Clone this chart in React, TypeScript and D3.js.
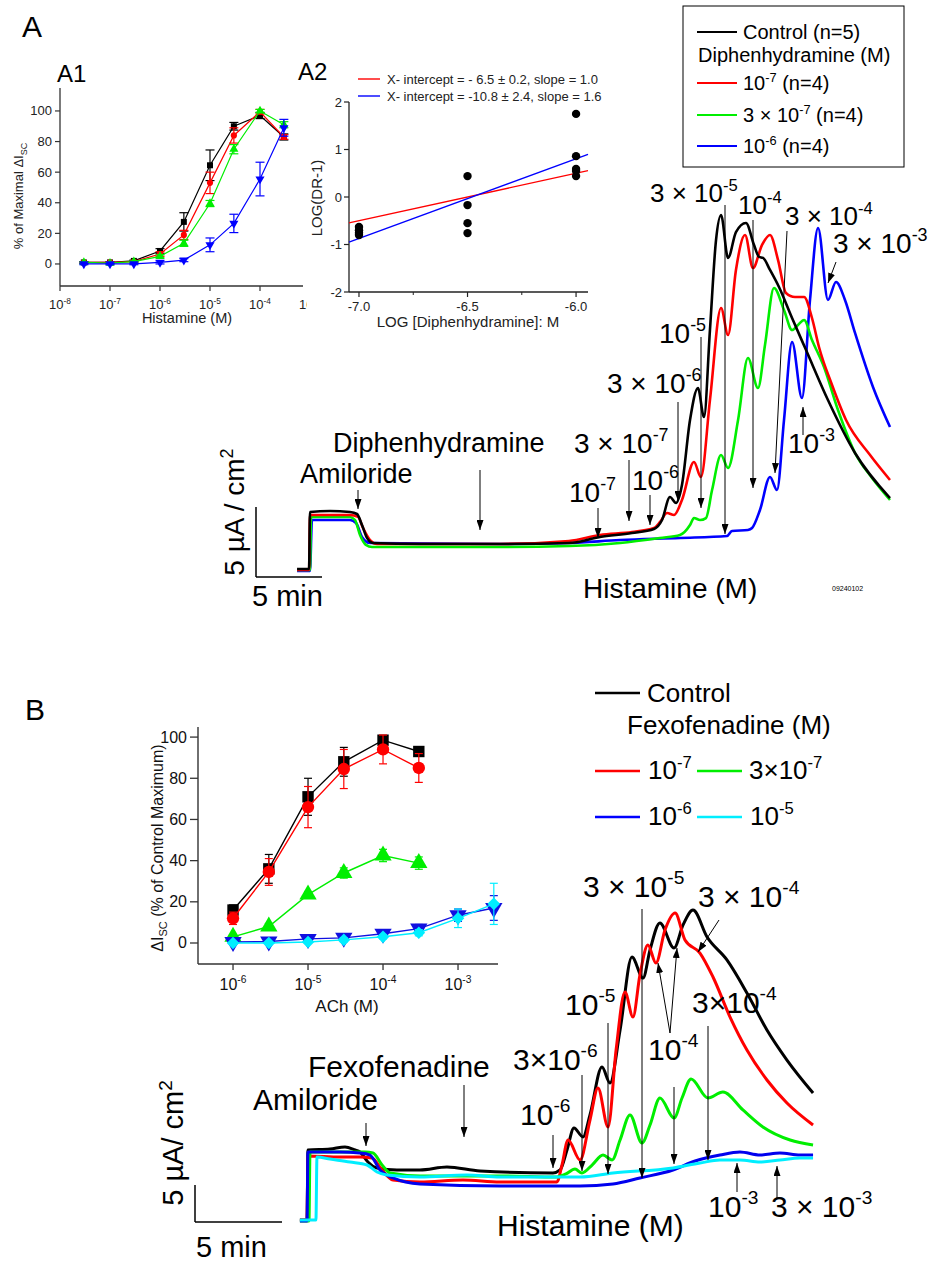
import React from "react";
import * as d3 from "d3";

const FONT = "'Liberation Sans', Arial, Helvetica, sans-serif";
const BLACK = "#000000";
const RED = "#ff0000";
const GREEN = "#00ee00";
const BLUE = "#0000ff";
const CYAN = "#00eeff";

// ---------------- A1: histamine concentration-response ----------------
const a1Conc = [3e-8, 1e-7, 3e-7, 1e-6, 3e-6, 1e-5, 3e-5, 1e-4, 3e-4];
const a1Control = [1, 1, 2, 8.5, 27.5, 64.5, 90, 97, 83];
const a1ControlErr = [0.5, 0.5, 0.5, 1.5, 6, 10, 2.5, 2, 2];
const a1Diph1 = [1, 1, 1.5, 6.5, 19, 53, 84, 99.5, 83];
const a1Diph1Err = [0.5, 0.5, 0.5, 1.5, 3, 7, 5, 1.5, 1.5];
const a1Diph3 = [1, 0.5, 1.5, 5, 13.5, 39.5, 75, 100, 91];
const a1Diph3Err = [0.5, 0.5, 0.5, 1, 2, 2, 3, 1, 2];
const a1Diph10 = [0, 0, 0, 1, 2.5, 12.5, 26.5, 55.5, 89];
const a1Diph10Err = [0.5, 0.5, 0.5, 1, 1, 4.5, 6, 11, 5.5];
const a1XTicks = [1e-8, 1e-7, 1e-6, 1e-5, 1e-4, 1e-3];
const a1XTickExp = ["-8", "-7", "-6", "-5", "-4", "-3"];
const a1YTicks = [0, 20, 40, 60, 80, 100];

// ---------------- A2: Schild plot ----------------
const a2Dose = [-7.0, -6.5, -6.0];
const a2Values = [
  [-0.63, -0.7, -0.75, -0.8],
  [0.44, -0.17, -0.55, -0.76],
  [1.75, 0.86, 0.59, 0.55, 0.44],
];
const a2FitSlopes = [1.0, 1.68];
const a2FitXIntercepts = [-6.5, -6.48];
const a2FitColors = [RED, BLUE];
const a2FitLabels = [
  "X- intercept = - 6.5 \u00b1 0.2, slope = 1.0",
  "X- intercept = -10.8 \u00b1 2.4, slope = 1.6",
];
const a2XTicks = [-7.0, -6.5, -6.0];
const a2XMinor = [-6.75, -6.25];
const a2YTicks = [-2, -1, 0, 1, 2];

// ---------------- A: traces (time min, current uA/cm2) ----------------
const traceAControl: [number, number][] = [
  [3.11, 0.57], [4.02, 0.57], [4.09, 4.64], [5.61, 4.71], [7.12, 4.64], [7.65, 4.5], [8.03, 3.71], [8.41, 2.79], [8.86, 2.43],
  [12.42, 2.36], [18.48, 2.36], [23.71, 2.43], [26.06, 2.86], [28.48, 3.14], [30.15, 3.43], [30.76, 4.07], [31.36, 5.71],
  [31.82, 5.29], [32.27, 6.57], [32.88, 11.21], [33.48, 13.5], [33.94, 11.43], [34.39, 17.64], [34.85, 24.07], [35.23, 25.86],
  [35.76, 22.79], [36.36, 24.64], [37.12, 25.29], [37.73, 23.71], [38.11, 22.86], [38.41, 22.79], [38.94, 21.93], [39.62, 20.71],
  [40.61, 18.5], [41.67, 16.21], [43.33, 12.64], [45.38, 8.86], [48.03, 5.64],
];
const traceADiph1: [number, number][] = [
  [3.11, 0.5], [4.02, 0.5], [4.09, 4.43], [7.12, 4.43], [7.73, 4.29], [8.11, 3.5], [8.64, 2.64], [9.17, 2.36], [18.48, 2.36],
  [23.71, 2.57], [26.06, 3.0], [28.48, 3.21], [30.15, 3.5], [30.61, 3.93], [31.14, 4.57], [31.67, 4.43], [32.27, 5.5],
  [33.18, 8.21], [33.71, 7.14], [34.39, 12.64], [35.23, 19.21], [35.76, 17.29], [36.36, 21.93], [37.05, 24.43], [37.65, 22.07],
  [38.33, 23.71], [38.94, 24.43], [39.55, 22.64], [40.15, 20.29], [40.83, 20.0], [41.52, 20.0], [42.12, 18.5], [42.65, 16.43],
  [43.64, 13.71], [44.7, 11.21], [46.52, 8.71], [48.03, 6.93],
];
const traceADiph3: [number, number][] = [
  [3.11, 0.5], [4.09, 0.5], [4.17, 4.29], [7.12, 4.29], [7.5, 4.07], [7.88, 3.0], [8.33, 2.29], [8.79, 2.14], [18.48, 2.14],
  [23.71, 2.21], [27.58, 2.43], [30.61, 2.79], [32.12, 3.0], [32.88, 3.71], [33.18, 4.21], [33.64, 4.07], [34.09, 4.21],
  [34.55, 6.21], [35.23, 8.71], [35.76, 7.79], [36.52, 11.21], [37.27, 15.64], [38.03, 13.5], [38.56, 16.57], [39.24, 20.64],
  [40.0, 19.07], [40.61, 17.64], [41.06, 18.0], [41.52, 18.36], [42.12, 16.93], [43.03, 15.0], [44.09, 11.93], [45.38, 8.86],
  [46.67, 7.07], [48.03, 5.5],
];
const traceADiph10: [number, number][] = [
  [3.11, 0.43], [4.09, 0.43], [4.24, 4.07], [7.12, 4.07], [7.58, 3.86], [8.03, 2.86], [8.64, 2.43], [18.48, 2.36], [23.71, 2.43],
  [27.58, 2.64], [32.12, 2.79], [35.68, 2.93], [36.06, 3.29], [37.27, 3.36], [37.58, 3.5], [38.18, 4.79], [38.94, 7.14],
  [39.47, 6.21], [40.0, 11.21], [40.61, 16.79], [41.36, 12.79], [41.97, 19.79], [42.58, 24.93], [43.33, 19.79], [43.94, 21.07],
  [44.62, 19.79], [45.38, 17.43], [46.74, 13.57], [48.03, 10.71],
];

// ---------------- B inset: ACh concentration-response ----------------
const bConc = [1e-6, 3e-6, 1e-5, 3e-5, 1e-4, 3e-4];
const bConcLong = [1e-6, 3e-6, 1e-5, 3e-5, 1e-4, 3e-4, 1e-3, 3e-3];
const bControl = [16, 36, 71, 88, 98.5, 93];
const bControlErr = [2.5, 7, 9, 7, 2, 1];
const bFexo1 = [12, 34.5, 66, 84.5, 94, 85];
const bFexo1Err = [3, 6.5, 10, 9.5, 7, 7];
const bFexo3 = [3, 8, 23.5, 34, 42.5, 38.8];
const bFexo3Err = [1, 1.5, 1.5, 2.5, 3, 3];
const bFexo10 = [0.5, 0.7, 2, 2.5, 4.5, 7, 13.5, 17];
const bFexo10Err = [1, 1, 1, 1.5, 1.5, 2, 3, 6];
const bFexo100 = [0, 0, 0.5, 1.5, 3, 5, 12, 19];
const bFexo100Err = [0.5, 0.5, 0.5, 1, 1, 1.5, 4.5, 10];
const bXTicks = [1e-6, 1e-5, 1e-4, 1e-3];
const bXTickExp = ["-6", "-5", "-4", "-3"];
const bYTicks = [0, 20, 40, 60, 80, 100];

// ---------------- B: traces ----------------
const traceBControl: [number, number][] = [
  [6.03, 0.27], [6.44, 0.27], [6.49, 9.73], [7.76, 9.86], [8.62, 10.14], [9.2, 9.73], [9.48, 9.46], [9.94, 8.11], [10.46, 7.3],
  [11.61, 7.03], [12.93, 7.03], [14.48, 7.43], [16.38, 6.89], [20.57, 6.62], [20.98, 7.03], [21.38, 9.73], [21.78, 12.7],
  [22.3, 11.49], [22.7, 14.46], [23.39, 20.95], [23.85, 18.78], [24.43, 25.95], [25.11, 35.81], [25.75, 32.97], [26.15, 36.76],
  [26.72, 40.41], [27.53, 37.03], [28.05, 40.14], [28.62, 42.16], [29.43, 38.51], [30.57, 35.41], [31.72, 30.95], [32.87, 25.95],
  [34.02, 21.89], [35.52, 17.43],
];
const traceBFexo1: [number, number][] = [
  [6.03, 0.27], [6.44, 0.27], [6.49, 8.92], [8.33, 8.78], [9.48, 8.78], [10.17, 8.65], [10.75, 7.03], [11.38, 5.68], [12.93, 5.41],
  [15.4, 5.68], [17.53, 5.41], [20.8, 5.41], [21.09, 7.7], [21.44, 11.08], [22.13, 8.38], [22.7, 13.78], [23.16, 18.11],
  [23.74, 12.84], [24.2, 23.24], [24.71, 31.08], [25.17, 27.7], [25.57, 33.38], [26.03, 37.43], [26.49, 35.0], [27.01, 39.46],
  [27.59, 41.76], [28.16, 38.11], [29.02, 36.35], [29.77, 33.11], [30.75, 27.7], [31.72, 23.24], [32.87, 19.19], [34.02, 16.08],
  [35.52, 13.11],
];
const traceBFexo3: [number, number][] = [
  [6.03, 0.14], [6.55, 0.14], [6.61, 9.46], [8.33, 9.46], [9.77, 9.46], [10.23, 9.32], [10.75, 7.7], [11.21, 6.62], [12.93, 6.22],
  [17.53, 6.22], [20.8, 6.08], [21.32, 6.49], [21.84, 7.16], [22.24, 6.62], [22.82, 7.7], [23.45, 9.05], [23.97, 8.38],
  [24.43, 11.08], [25.0, 14.46], [25.69, 10.68], [26.15, 13.11], [26.72, 16.76], [27.53, 14.05], [27.99, 16.76], [28.51, 19.32],
  [29.48, 16.76], [30.34, 17.57], [31.49, 15.14], [32.64, 12.84], [34.2, 11.08], [35.52, 10.41],
];
const traceBFexo10: [number, number][] = [
  [6.03, 0.14], [6.44, 0.14], [6.49, 9.46], [8.33, 9.46], [9.48, 9.32], [10.06, 9.05], [10.63, 7.03], [11.38, 5.95], [12.93, 5.14],
  [17.53, 4.86], [22.13, 4.86], [24.02, 5.14], [25.57, 5.95], [27.47, 7.03], [28.74, 8.24], [30.17, 9.05], [31.32, 9.46],
  [32.47, 9.05], [33.62, 9.32], [34.77, 9.05], [35.52, 9.05],
];
const traceBFexo100: [number, number][] = [
  [6.03, 0.27], [6.95, 0.27], [7.01, 8.78], [7.76, 8.51], [8.91, 8.11], [9.89, 7.7], [10.46, 6.76], [11.03, 6.35], [12.93, 6.08],
  [15.63, 6.35], [17.53, 6.08], [22.13, 6.08], [24.02, 6.62], [27.47, 7.3], [29.02, 7.97], [30.17, 8.38], [31.32, 8.38],
  [32.47, 8.11], [33.62, 8.38], [34.77, 8.65], [35.52, 8.65],
];

// ---------------- scales ----------------
const xA1 = d3.scaleLog().domain([1e-8, Math.pow(10, -3.14)]).range([60, 303]);
const yA1 = d3.scaleLinear().domain([-14.4, 115]).range([286, 88]);
const xA2 = d3.scaleLinear().domain([-7.046, -5.945]).range([349, 588]);
const yA2 = d3.scaleLinear().domain([-2, 2]).range([292, 102]);
const xTA = d3.scaleLinear().domain([0, 5]).range([256, 322]);
const yTA = d3.scaleLinear().domain([0, 5]).range([577, 507]);
const xBi = d3.scaleLog().domain([Math.pow(10, -6.467), Math.pow(10, -2.467)]).range([198, 498]);
const yBi = d3.scaleLinear().domain([-10.2, 104.9]).range([964, 727]);
const xTB = d3.scaleLinear().domain([0, 5]).range([195, 282]);
const yTB = d3.scaleLinear().domain([0, 5]).range([1222, 1185]);

type Shape = "square" | "circle" | "triUp" | "triDown" | "diamond";

function Mark({ shape, x, y, size, color }: { shape: Shape; x: number; y: number; size: number; color: string }) {
  let type: any = d3.symbolCircle;
  let rot = 0;
  if (shape === "square") type = d3.symbolSquare;
  if (shape === "triUp") type = d3.symbolTriangle;
  if (shape === "triDown") { type = d3.symbolTriangle; rot = 180; }
  if (shape === "diamond") { type = d3.symbolSquare; rot = 45; }
  const p = d3.symbol().type(type).size(size)() || "";
  return <path d={p} transform={`translate(${x},${y}) rotate(${rot})`} fill={color} />;
}

function Pow({ x, y, pre = "", exp, post = "", size, anchor = "start", fill = "#000" }: any) {
  const es = size * 0.64;
  const up = size * 0.42;
  return (
    <text x={x} y={y} fontSize={size} textAnchor={anchor} fill={fill}>
      {pre + "10"}
      <tspan dy={-up} fontSize={es}>{exp}</tspan>
      {post ? <tspan dy={up}>{post}</tspan> : null}
    </text>
  );
}

function Arrow({ x1, y1, x2, y2 }: { x1: number; y1: number; x2: number; y2: number }) {
  return <line x1={x1} y1={y1} x2={x2} y2={y2} stroke="#000" strokeWidth={1} markerEnd="url(#ah)" />;
}

function DoseResponse({ xs, ys, errs, color, shape, xs_, ys_, size, cap, lw }: any) {
  const line = d3.line<number>().x((_, i) => xs_(xs[i])).y((d) => ys_(d));
  return (
    <g>
      <path d={line(ys) || ""} fill="none" stroke={color} strokeWidth={lw} />
      {ys.map((v: number, i: number) => {
        const x = xs_(xs[i]);
        const yt = ys_(v + errs[i]);
        const yb = ys_(v - errs[i]);
        return (
          <g key={i}>
            <line x1={x} x2={x} y1={yt} y2={yb} stroke={color} strokeWidth={1.2} />
            <line x1={x - cap} x2={x + cap} y1={yt} y2={yt} stroke={color} strokeWidth={1.2} />
            <line x1={x - cap} x2={x + cap} y1={yb} y2={yb} stroke={color} strokeWidth={1.2} />
            <Mark shape={shape} x={x} y={ys_(v)} size={size} color={color} />
          </g>
        );
      })}
    </g>
  );
}

export default function App() {
  const a1Series = [
    { ys: a1Control, errs: a1ControlErr, color: BLACK, shape: "square" },
    { ys: a1Diph1, errs: a1Diph1Err, color: RED, shape: "circle" },
    { ys: a1Diph3, errs: a1Diph3Err, color: GREEN, shape: "triUp" },
    { ys: a1Diph10, errs: a1Diph10Err, color: BLUE, shape: "triDown" },
  ];
  const bSeries = [
    { xs: bConc, ys: bControl, errs: bControlErr, color: BLACK, shape: "square" },
    { xs: bConc, ys: bFexo1, errs: bFexo1Err, color: RED, shape: "circle" },
    { xs: bConc, ys: bFexo3, errs: bFexo3Err, color: GREEN, shape: "triUp" },
    { xs: bConcLong, ys: bFexo10, errs: bFexo10Err, color: "#1010e0", shape: "triDown" },
    { xs: bConcLong, ys: bFexo100, errs: bFexo100Err, color: CYAN, shape: "diamond" },
  ];
  const tracesA = [
    { d: traceADiph10, c: BLUE },
    { d: traceADiph3, c: GREEN },
    { d: traceADiph1, c: RED },
    { d: traceAControl, c: BLACK },
  ];
  const tracesB = [
    { d: traceBControl, c: BLACK },
    { d: traceBFexo1, c: RED },
    { d: traceBFexo3, c: GREEN },
    { d: traceBFexo10, c: "#0000ee" },
    { d: traceBFexo100, c: CYAN },
  ];
  const lineA = d3.line<[number, number]>().x((d) => xTA(d[0])).y((d) => yTA(d[1])).curve(d3.curveMonotoneX);
  const lineB = d3.line<[number, number]>().x((d) => xTB(d[0])).y((d) => yTB(d[1])).curve(d3.curveMonotoneX);
  const axisCol = "#333";

  return (
    <svg width={930} height={1263} style={{ position: "absolute", left: 0, top: 0, background: "#fff" }} fontFamily={FONT}>
      <defs>
        <marker id="ah" viewBox="0 0 10 7" refX={10} refY={3.5} markerWidth={10} markerHeight={7} markerUnits="userSpaceOnUse" orient="auto">
          <path d="M0,0 L10,3.5 L0,7 z" fill="#000" />
        </marker>
        <clipPath id="a1clip">
          <rect x={0} y={0} width={307} height={340} />
        </clipPath>
      </defs>
      <rect x={0} y={0} width={930} height={1263} fill="#fff" />

      {/* Panel labels */}
      <text x={22} y={37} fontSize={30}>A</text>
      <text x={57} y={82} fontSize={24}>A1</text>
      <text x={298} y={80} fontSize={24}>A2</text>
      <text x={25} y={720} fontSize={30}>B</text>

      {/* ---------- A1 ---------- */}
      <g>
        <line x1={60} x2={60} y1={88} y2={286} stroke={axisCol} strokeWidth={1.3} />
        <line x1={60} x2={303} y1={286} y2={286} stroke={axisCol} strokeWidth={1.3} />
        {a1YTicks.map((t) => (
          <g key={t}>
            <line x1={55} x2={60} y1={yA1(t)} y2={yA1(t)} stroke={axisCol} strokeWidth={1.2} />
            <text x={52} y={yA1(t) + 4.5} fontSize={13} textAnchor="end" fill="#222">{t}</text>
          </g>
        ))}
        <g clipPath="url(#a1clip)">
          {a1XTicks.map((t, i) => (
            <g key={i}>
              {xA1(t) <= 303 ? <line x1={xA1(t)} x2={xA1(t)} y1={286} y2={291} stroke={axisCol} strokeWidth={1.2} /> : null}
              <Pow x={xA1(t)} y={309} exp={a1XTickExp[i]} size={13} anchor="middle" fill="#222" />
            </g>
          ))}
        </g>
        <text x={187} y={323} fontSize={14.5} textAnchor="middle" fill="#222">Histamine (M)</text>
        <text transform="translate(23,196) rotate(-90)" fontSize={13} textAnchor="middle" fill="#222">
          % of Maximal ΔI<tspan dy={4} fontSize={9}>SC</tspan>
        </text>
        {a1Series.map((s, i) => (
          <DoseResponse key={i} xs={a1Conc} ys={s.ys} errs={s.errs} color={s.color} shape={s.shape}
            xs_={xA1} ys_={yA1} size={s.shape === "circle" ? 30 : 36} cap={4.5} lw={1.2} />
        ))}
      </g>

      {/* ---------- A2 ---------- */}
      <g>
        <line x1={349} x2={349} y1={102} y2={292} stroke="#222" strokeWidth={1.3} />
        <line x1={349} x2={588} y1={292} y2={292} stroke="#222" strokeWidth={1.3} />
        {a2YTicks.map((t) => (
          <g key={t}>
            <line x1={344} x2={349} y1={yA2(t)} y2={yA2(t)} stroke="#222" strokeWidth={1.2} />
            <text x={342} y={yA2(t) + 4.5} fontSize={13} textAnchor="end" fill="#222">{t}</text>
          </g>
        ))}
        {a2XTicks.map((t) => (
          <g key={t}>
            <line x1={xA2(t)} x2={xA2(t)} y1={292} y2={297} stroke="#222" strokeWidth={1.2} />
            <text x={xA2(t)} y={311} fontSize={13} textAnchor="middle" fill="#222">{t.toFixed(1)}</text>
          </g>
        ))}
        {a2XMinor.map((t) => (
          <line key={t} x1={xA2(t)} x2={xA2(t)} y1={292} y2={295} stroke="#222" strokeWidth={1} />
        ))}
        <text x={468} y={327} fontSize={15} textAnchor="middle" fill="#222">LOG [Diphenhydramine]: M</text>
        <text transform="translate(322,198) rotate(-90)" fontSize={15} textAnchor="middle" fill="#222">LOG(DR-1)</text>
        {a2FitSlopes.map((s, i) => {
          const x0 = -7.046, x1 = -5.945;
          return (
            <line key={i} x1={xA2(x0)} y1={yA2(s * (x0 - a2FitXIntercepts[i]))} x2={xA2(x1)} y2={yA2(s * (x1 - a2FitXIntercepts[i]))}
              stroke={a2FitColors[i]} strokeWidth={1.4} />
          );
        })}
        {a2Dose.map((d, i) =>
          a2Values[i].map((v, j) => <circle key={`${i}-${j}`} cx={xA2(d)} cy={yA2(v)} r={4.2} fill="#000" />)
        )}
        {a2FitLabels.map((lab, i) => (
          <g key={i}>
            <line x1={358} x2={380} y1={79 + i * 17} y2={79 + i * 17} stroke={a2FitColors[i]} strokeWidth={1.4} />
            <text x={387} y={83.5 + i * 17} fontSize={13} fill="#222">{lab}</text>
          </g>
        ))}
      </g>

      {/* ---------- A legend ---------- */}
      <g>
        <rect x={683} y={6} width={221} height={161} fill="#fff" stroke="#000" strokeWidth={1} />
        <line x1={697} x2={737} y1={32} y2={32} stroke={BLACK} strokeWidth={2} />
        <text x={743} y={39} fontSize={20}>Control (n=5)</text>
        <text x={698} y={62} fontSize={20}>Diphenhydramine (M)</text>
        <line x1={697} x2={737} y1={83} y2={83} stroke={RED} strokeWidth={2} />
        <Pow x={743} y={90} exp="-7" post=" (n=4)" size={20} />
        <line x1={697} x2={737} y1={115} y2={115} stroke={GREEN} strokeWidth={2} />
        <Pow x={743} y={122} pre={"3 \u00d7 "} exp="-7" post=" (n=4)" size={20} />
        <line x1={697} x2={737} y1={146} y2={146} stroke={BLUE} strokeWidth={2} />
        <Pow x={743} y={153} exp="-6" post=" (n=4)" size={20} />
      </g>

      {/* ---------- A traces ---------- */}
      <g>
        {tracesA.map((t, i) => (
          <path key={i} d={lineA(t.d) || ""} fill="none" stroke={t.c} strokeWidth={2.6} strokeLinejoin="round" />
        ))}
        {/* scale bar */}
        <line x1={xTA(0)} x2={xTA(0)} y1={yTA(0)} y2={yTA(5)} stroke="#000" strokeWidth={1.5} />
        <line x1={xTA(0)} x2={xTA(5)} y1={yTA(0)} y2={yTA(0)} stroke="#000" strokeWidth={1.5} />
        <text x={252} y={606} fontSize={29}>5 min</text>
        <text transform="translate(244,512) rotate(-90)" fontSize={28} textAnchor="middle">
          5 µA / cm<tspan dy={-11} fontSize={18}>2</tspan>
        </text>
        <text x={300} y={483} fontSize={27}>Amiloride</text>
        <text x={333} y={452} fontSize={27}>Diphenhydramine</text>
        <text x={583} y={598} fontSize={28}>Histamine (M)</text>
        <text x={832} y={591} fontSize={7}>09240102</text>
        <Arrow x1={358} y1={490} x2={358} y2={509} />
        <Arrow x1={480} y1={470} x2={480} y2={530} />
        <Pow x={569} y={502} exp="-7" size={28} />
        <Arrow x1={598} y1={508} x2={598} y2={538} />
        <Pow x={574} y={453} pre={"3 \u00d7 "} exp="-7" size={28} />
        <Arrow x1={629} y1={460} x2={629} y2={521} />
        <Pow x={632} y={490} exp="-6" size={28} />
        <Arrow x1={650} y1={495} x2={650} y2={525} />
        <Pow x={607} y={393} pre={"3 \u00d7 "} exp="-6" size={28} />
        <Arrow x1={678} y1={402} x2={678} y2={501} />
        <Pow x={659} y={343} exp="-5" size={28} />
        <Arrow x1={701} y1={337} x2={701} y2={508} />
        <Pow x={650} y={202} pre={"3 \u00d7 "} exp="-5" size={26} />
        <Arrow x1={725} y1={205} x2={725} y2={534} />
        <Pow x={738} y={214} exp="-4" size={26} />
        <Arrow x1={753} y1={220} x2={753} y2={488} />
        <Pow x={785} y={225} pre={"3 \u00d7 "} exp="-4" size={26} />
        <Arrow x1={787} y1={231} x2={775} y2={473} />
        <Pow x={833} y={253} pre={"3 \u00d7 "} exp="-3" size={28} />
        <Arrow x1={836} y1={262} x2={828} y2={283} />
        <Pow x={788} y={453} exp="-3" size={28} />
        <Arrow x1={803} y1={435} x2={803} y2={407} />
      </g>

      {/* ---------- B inset ---------- */}
      <g>
        <line x1={198} x2={198} y1={727} y2={964} stroke={axisCol} strokeWidth={1.4} />
        <line x1={198} x2={498} y1={964} y2={964} stroke={axisCol} strokeWidth={1.4} />
        {bYTicks.map((t) => (
          <g key={t}>
            <line x1={190} x2={198} y1={yBi(t)} y2={yBi(t)} stroke={axisCol} strokeWidth={1.3} />
            <text x={187} y={yBi(t) + 5.5} fontSize={16} textAnchor="end" fill="#111">{t}</text>
          </g>
        ))}
        {bXTicks.map((t, i) => (
          <g key={i}>
            <line x1={xBi(t)} x2={xBi(t)} y1={964} y2={970} stroke={axisCol} strokeWidth={1.3} />
            <Pow x={xBi(t)} y={990} exp={bXTickExp[i]} size={16} anchor="middle" fill="#111" />
          </g>
        ))}
        <text x={347} y={1012} fontSize={17} textAnchor="middle" fill="#111">ACh (M)</text>
        <text transform="translate(163,848) rotate(-90)" fontSize={16} textAnchor="middle" fill="#111">
          ΔI<tspan dy={4} fontSize={11}>SC</tspan><tspan dy={-4}> (% of Control Maximum)</tspan>
        </text>
        {bSeries.map((s, i) => (
          <DoseResponse key={i} xs={s.xs} ys={s.ys} errs={s.errs} color={s.color} shape={s.shape}
            xs_={xBi} ys_={yBi} size={s.shape === "circle" ? 120 : s.shape === "diamond" ? 80 : 130} cap={4} lw={1.4} />
        ))}
      </g>

      {/* ---------- B legend ---------- */}
      <g>
        <line x1={595} x2={640} y1={693} y2={693} stroke={BLACK} strokeWidth={2.5} />
        <text x={647} y={702} fontSize={26}>Control</text>
        <text x={627} y={734} fontSize={26}>Fexofenadine (M)</text>
        <line x1={595} x2={640} y1={771} y2={771} stroke={RED} strokeWidth={2.5} />
        <Pow x={648} y={779} exp="-7" size={26} />
        <line x1={697} x2={742} y1={771} y2={771} stroke={GREEN} strokeWidth={2.5} />
        <Pow x={749} y={779} pre={"3\u00d7"} exp="-7" size={26} />
        <line x1={595} x2={640} y1={817} y2={817} stroke={BLUE} strokeWidth={2.5} />
        <Pow x={648} y={825} exp="-6" size={26} />
        <line x1={697} x2={742} y1={817} y2={817} stroke={CYAN} strokeWidth={2.5} />
        <Pow x={750} y={825} exp="-5" size={26} />
      </g>

      {/* ---------- B traces ---------- */}
      <g>
        {tracesB.map((t, i) => (
          <path key={i} d={lineB(t.d) || ""} fill="none" stroke={t.c} strokeWidth={3} strokeLinejoin="round" />
        ))}
        <line x1={xTB(0)} x2={xTB(0)} y1={yTB(0)} y2={yTB(5)} stroke="#000" strokeWidth={1.5} />
        <line x1={xTB(0)} x2={xTB(5)} y1={yTB(0)} y2={yTB(0)} stroke="#000" strokeWidth={1.5} />
        <text x={196} y={1257} fontSize={29}>5 min</text>
        <text transform="translate(183,1143) rotate(-90)" fontSize={29} textAnchor="middle">
          5 µA/ cm<tspan dy={-11} fontSize={19}>2</tspan>
        </text>
        <text x={253} y={1110} fontSize={30}>Amiloride</text>
        <Arrow x1={366} y1={1123} x2={366} y2={1146} />
        <text x={308} y={1077} fontSize={30}>Fexofenadine</text>
        <Arrow x1={464} y1={1085} x2={464} y2={1137} />
        <text x={497} y={1236} fontSize={30}>Histamine (M)</text>
        <Pow x={520} y={1125} exp="-6" size={30} />
        <Arrow x1={553} y1={1135} x2={553} y2={1168} />
        <Pow x={513} y={1070} pre={"3\u00d7"} exp="-6" size={30} />
        <Arrow x1={582} y1={1075} x2={582} y2={1171} />
        <Pow x={565} y={1015} exp="-5" size={30} />
        <Arrow x1={608} y1={1023} x2={608} y2={1174} />
        <Pow x={583} y={897} pre={"3 \u00d7 "} exp="-5" size={30} />
        <Arrow x1={642} y1={909} x2={642} y2={1178} />
        <Pow x={698} y={907} pre={"3 \u00d7 "} exp="-4" size={30} />
        <Arrow x1={719} y1={920} x2={698} y2={952} />
        <Pow x={648} y={1060} exp="-4" size={30} />
        <Arrow x1={670} y1={1033} x2={658} y2={963} />
        <Arrow x1={670} y1={1033} x2={677} y2={948} />
        <Arrow x1={674} y1={1087} x2={674} y2={1164} />
        <Pow x={692} y={1013} pre={"3\u00d7"} exp="-4" size={30} />
        <Arrow x1={708} y1={1026} x2={708} y2={1160} />
        <Pow x={708} y={1217} exp="-3" size={30} />
        <Arrow x1={737} y1={1192} x2={737} y2={1163} />
        <Pow x={771} y={1217} pre={"3 \u00d7 "} exp="-3" size={30} />
        <Arrow x1={777} y1={1198} x2={777} y2={1166} />
      </g>
    </svg>
  );
}
